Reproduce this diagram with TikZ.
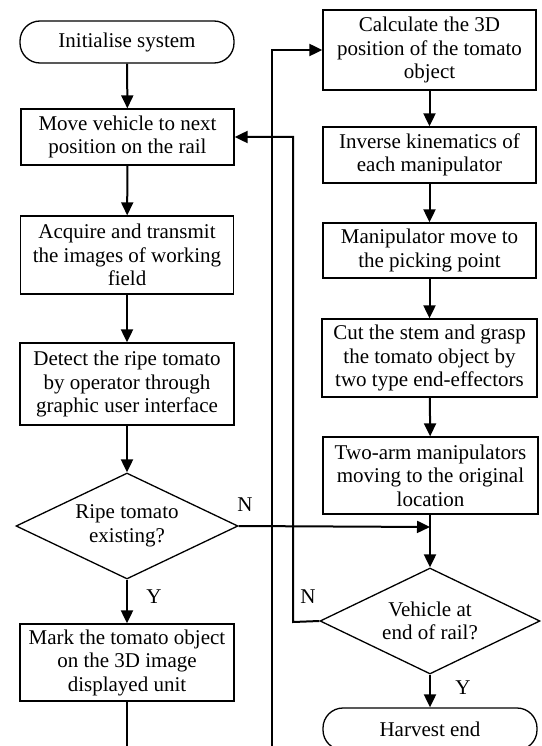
\documentclass[tikz,border=0pt]{standalone}
\usepackage{fontspec}
\setmainfont{Liberation Serif}
\usetikzlibrary{shapes.geometric,arrows.meta}
\begin{document}
\begin{tikzpicture}[x=1pt,y=-1pt,
  base/.style={draw,line width=1.3pt,align=center,inner sep=0pt,
    font=\fontsize{21}{23.5}\selectfont},
  procbox/.style={base,rectangle,minimum width=213pt},
  termbox/.style={base,rectangle,rounded corners=20pt,minimum width=214pt,minimum height=42pt},
  decbox/.style={base,diamond,aspect=2.1,minimum width=222pt,minimum height=106pt},
  flow/.style={line width=2pt,-{Triangle[length=13pt,width=12pt]}},
  plain/.style={line width=2pt},
  lbl/.style={font=\fontsize{21}{23.5}\selectfont,inner sep=0pt}]
\clip (0,0) rectangle (541,746);
\useasboundingbox (0,0) rectangle (541,746);
% left column
\node[termbox] (init) at (127,42) {Initialise system};
\node[procbox,minimum height=56pt] (move) at (127.5,137) {Move vehicle to next\\position on the rail};
\node[procbox,minimum height=78pt] (acq) at (127,255) {Acquire and transmit\\the images of working\\field};
\node[procbox,minimum width=214pt,minimum height=82pt] (det) at (127,384) {Detect the ripe tomato\\by operator through\\graphic user interface};
\node[decbox] (d1) at (127,526) {Ripe tomato\\existing?};
\node[procbox,minimum width=214pt,minimum height=77pt] (mark) at (127,662.5) {Mark the tomato object\\on the 3D image\\displayed unit};
% right column
\node[procbox,minimum height=80pt] (calc) at (429.5,50) {Calculate the 3D\\position of the tomato\\object};
\node[procbox,minimum height=56pt] (inv) at (429.5,155) {Inverse kinematics of\\each manipulator};
\node[procbox,minimum height=55pt] (manip) at (429.5,250.5) {Manipulator move to\\the picking point};
\node[procbox,minimum width=215pt,minimum height=78pt] (cut) at (429.5,358) {Cut the stem and grasp\\the tomato object by\\two type end-effectors};
\node[procbox,minimum width=215pt,minimum height=77pt] (two) at (430.5,475.5) {Two-arm manipulators\\moving to the original\\location};
\node[decbox,minimum width=220pt] (d2) at (430,621) {Vehicle at\\end of rail?};
\node[termbox] (harv) at (430,729) {Harvest end};
% coordinates
\coordinate (j) at (430,527);
\coordinate (bl) at (127,750);
\coordinate (br) at (272,750);
\coordinate (ret) at (293,622);
% connectors
\draw[flow] (init) -- (move);
\draw[flow] (move) -- (acq);
\draw[flow] (acq) -- (det);
\draw[flow] (det) -- (d1);
\draw[flow] (d1) -- (mark);
\draw[plain] (mark) -- (bl);
\draw[flow] (br) |- (calc.west);
\draw[flow] (calc) -- (inv);
\draw[flow] (inv) -- (manip);
\draw[flow] (manip) -- (cut);
\draw[flow] (cut) -- (two);
\draw[flow] (d1.east) -- (j);
\draw[flow] (two.south -| j) -- (d2.north);
\draw[flow] (d2.west) -- (ret) |- (move.east);
\draw[flow] (d2) -- (harv);
% labels
\node[lbl] (ln1) at (245,505) {N};
\node[lbl] (ly1) at (154,597) {Y};
\node[lbl] (ln2) at (308,597) {N};
\node[lbl] (ly2) at (463,688) {Y};
\end{tikzpicture}
\end{document}
